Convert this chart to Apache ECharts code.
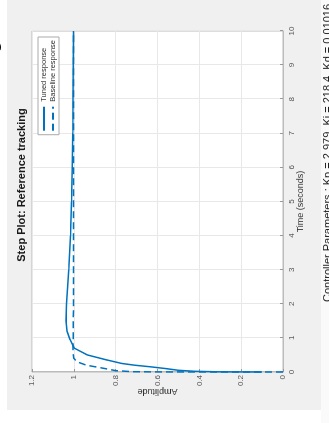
<!DOCTYPE html>
<html>
<head>
<meta charset="utf-8">
<script src="https://cdn.jsdelivr.net/npm/echarts@6/dist/echarts.min.js"></script>
<style>
  html, body { margin:0; padding:0; background:#fff; width:329px; height:423px; overflow:hidden; }
  #chart { position:absolute; left:0; top:0; width:423px; height:329px;
           transform-origin:0 0; transform:translate(0,423px) rotate(-90deg); }
</style>
</head>
<body>
<div id="chart"></div>
<script>
// Time (s) and amplitude of the tuned response (solid)
const tunedT = [0, 0.005, 0.02, 0.05, 0.1, 0.15, 0.2, 0.25, 0.35, 0.5, 0.7, 0.95, 1.2, 1.5, 2, 3, 4, 5, 6, 7, 8, 9, 10];
const tunedY = [0.1, 0.3, 0.42, 0.5, 0.56, 0.63, 0.71, 0.77, 0.84, 0.935, 0.998, 1.018, 1.033, 1.038, 1.035, 1.024, 1.016, 1.011, 1.008, 1.005, 1.004, 1.003, 1.002];
// Time (s) and amplitude of the baseline response (dashed)
const baseT = [0, 0.003, 0.01, 0.04, 0.1, 0.2, 0.3, 0.4, 0.6, 1, 2, 5, 10];
const baseY = [0, 0.6, 0.72, 0.8, 0.85, 0.94, 0.985, 1.0, 1.004, 1.003, 1.002, 1.002, 1.002];
const seriesNames = ['Tuned response', 'Baseline response'];
const titleText = 'Step Plot: Reference tracking';
const xName = 'Time (seconds)';
const yName = 'Amplitude';
const footerText = 'Controller Parameters : Kp = 2.979, Ki = 218.4, Kd = 0.01016';

const zip = (a, b) => a.map((v, i) => [v, b[i]]);
const FONT = '"Liberation Sans", Arial, sans-serif';
const BLUE = '#0072BD';

const chart = echarts.init(document.getElementById('chart'), null, {renderer: 'canvas'});
chart.setOption({
  animation: false,
  backgroundColor: '#f0f0f0',
  textStyle: { fontFamily: FONT },
  graphic: [
    { type: 'rect', shape: { x: 0, y: 0, width: 13, height: 329 }, style: { fill: '#fff' }, z: 1 },
    { type: 'rect', shape: { x: 0, y: 0, width: 423, height: 7 }, style: { fill: '#fff' }, z: 1 },
    { type: 'rect', shape: { x: 0, y: 321, width: 423, height: 8 }, style: { fill: '#fafafa' }, z: 1 },
    { type: 'text', x: 376, y: -3, z: 5,
      style: { text: 'O', font: 'bold 16px ' + FONT, fill: '#000', align: 'center', verticalAlign: 'middle' } },
    { type: 'text', x: 238, y: 22, z: 5,
      style: { text: titleText, font: 'bold 11px ' + FONT, fill: '#1a1a1a', align: 'center', verticalAlign: 'middle' } },
    { type: 'text', x: 121, y: 322, z: 5,
      style: { text: footerText, font: '11px ' + FONT, fill: '#222', align: 'left', verticalAlign: 'top' } }
  ],
  legend: {
    data: seriesNames,
    orient: 'vertical',
    right: 37, top: 38,
    itemWidth: 24, itemHeight: 8, itemGap: 1,
    padding: [2, 3],
    borderColor: '#aaa', borderWidth: 1,
    backgroundColor: '#fff',
    itemStyle: { opacity: 0 },
    textStyle: { fontSize: 7.5, color: '#333', fontFamily: FONT }
  },
  grid: { left: 51, right: 31, top: 32, bottom: 46, show: true, backgroundColor: '#fff', borderColor: '#bbb', borderWidth: 1 },
  xAxis: {
    type: 'value', min: 0, max: 10, interval: 1,
    axisLine: { show: true, lineStyle: { color: '#bbb' } },
    axisTick: { show: true, inside: true, length: 3, lineStyle: { color: '#999' } },
    axisLabel: { fontSize: 8, color: '#555', margin: 4.5 },
    splitLine: { show: true, lineStyle: { color: '#e8e8e8' } },
    name: xName, nameLocation: 'middle', nameGap: 13, nameMoveOverlap: false,
    nameTextStyle: { fontSize: 9, color: '#333' }
  },
  yAxis: {
    type: 'value', min: 0, max: 1.2, interval: 0.2,
    axisLine: { show: true, lineStyle: { color: '#bbb' } },
    axisTick: { show: true, inside: true, length: 3, lineStyle: { color: '#999' } },
    axisLabel: { fontSize: 8, color: '#555', margin: 3 },
    splitLine: { show: true, lineStyle: { color: '#e8e8e8' } },
    name: yName, nameLocation: 'middle', nameGap: 15, nameMoveOverlap: false,
    nameTextStyle: { fontSize: 9, color: '#333' }
  },
  series: [
    { name: seriesNames[0], type: 'line', data: zip(tunedT, tunedY), symbol: 'none', showSymbol: false,
      color: BLUE, lineStyle: { width: 1.5, color: BLUE } },
    { name: seriesNames[1], type: 'line', data: zip(baseT, baseY), symbol: 'none', showSymbol: false,
      color: BLUE, lineStyle: { width: 1.5, color: BLUE, type: [7, 4] } }
  ]
});
</script>
</body>
</html>
